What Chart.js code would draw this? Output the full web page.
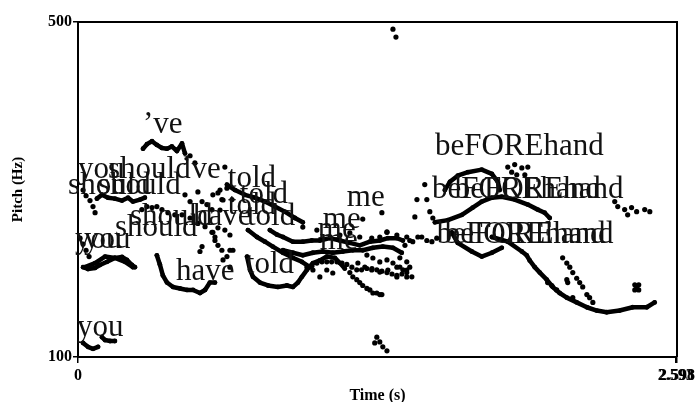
<!DOCTYPE html>
<html>
<head>
<meta charset="utf-8">
<script src="https://cdn.jsdelivr.net/npm/chart.js@4/dist/chart.umd.min.js"></script>
<style>
  html, body { margin: 0; padding: 0; background: #fff; }
  canvas { display: block; }
</style>
</head>
<body>
<canvas id="pitch" width="698" height="402"></canvas>
<script>
// Pitch tracks, [time (s), pitch (Hz)], several takes overlaid
// continuous stretches (drawn as joined dots)
const youShouldA = [[0.082,214],[0.104,218],[0.130,215],[0.160,214],[0.191,212],[0.217,215],[0.238,211],[0.269,213],[0.290,215]];
const veHigh = [[0.282,272],[0.299,278],[0.321,282],[0.342,277],[0.364,273],[0.386,272],[0.407,275],[0.429,269],[0.451,279],[0.464,266]];
const toldHigh = [[0.646,229],[0.681,223],[0.724,218],[0.767,215],[0.811,211],[0.854,206],[0.897,201],[0.941,195],[0.975,191]];
const toldMid = [[0.737,184],[0.776,178],[0.811,174],[0.845,170],[0.889,165],[0.932,161],[0.971,158],[1.006,154]];
const meUpper = [[0.832,184],[0.863,180],[0.889,178],[0.932,174],[0.975,174],[1.014,175],[1.049,175],[1.092,177],[1.136,175],[1.179,173],[1.222,171],[1.266,174],[1.309,175],[1.344,177],[1.383,177],[1.409,175]];
const meLower = [[0.889,167],[0.932,165],[0.975,163],[1.019,165],[1.062,166],[1.105,165],[1.149,166],[1.192,167],[1.235,167],[1.279,169],[1.322,170],[1.366,169],[1.404,165]];
const youLowA = [[0.022,154],[0.043,152.6],[0.074,153.4],[0.095,155.6],[0.126,158],[0.160,161],[0.191,161.7],[0.212,159.4],[0.234,155.6],[0.247,154]];
const youLowB = [[0.030,154],[0.074,157],[0.117,162],[0.160,161],[0.204,158],[0.238,154]];
const haveLow = [[0.342,163],[0.355,156],[0.368,148],[0.386,143],[0.412,140],[0.442,139],[0.473,138],[0.499,138],[0.529,136],[0.551,138],[0.572,143],[0.594,143]];
const toldLow = [[0.733,162],[0.746,152],[0.759,147],[0.789,143],[0.824,141],[0.867,140],[0.906,141],[0.932,140],[0.954,143],[0.971,147],[0.993,152],[1.019,157],[1.049,159],[1.079,162],[1.114,161],[1.136,157],[1.157,153]];
const youBottomA = [[0.022,107],[0.043,105],[0.065,104],[0.087,105]];
const youBottomB = [[0.104,110],[0.117,108.5],[0.139,108],[0.160,108]];
const handArch = [[1.591,223],[1.613,232],[1.647,239],[1.691,243],[1.751,246],[1.795,241],[1.821,232],[1.829,223]];
const handLong = [[1.548,191],[1.604,193],[1.665,198],[1.712,205],[1.751,211],[1.795,215],[1.838,216],[1.894,213],[1.951,208],[1.994,203],[2.024,200],[2.046,195]];
const handLoop = [[1.621,182],[1.647,173],[1.708,166],[1.751,162],[1.795,165],[1.838,169]];
const handFall = [[1.795,178],[1.864,174],[1.925,166],[1.946,163],[1.959,159],[1.981,154],[2.003,150],[2.033,145],[2.059,140],[2.089,136],[2.120,133],[2.163,130],[2.207,127],[2.250,125],[2.293,124],[2.349,125],[2.406,127],[2.467,127],[2.501,130]];

// scattered voiced frames
const youShouldDots = [[0.022,223],[0.035,217],[0.052,212],[0.065,206],[0.074,200],[0.009,177],[0.022,172],[0.035,167],[0.048,162]];
const veTail = [[0.486,263],[0.507,254]];
const shouldMid = [[0.277,203],[0.299,206],[0.321,205],[0.342,206],[0.364,203],[0.390,200],[0.420,198],[0.451,198],[0.486,195],[0.520,190],[0.551,187],[0.581,182],[0.594,178]];
const haveTold = [[0.464,218],[0.486,211],[0.520,221],[0.538,211],[0.559,208],[0.581,203],[0.585,218],[0.607,220],[0.624,213],[0.637,249],[0.646,225],[0.668,213],[0.607,186],[0.585,182],[0.594,175],[0.538,170],[0.529,166],[0.607,171],[0.624,167],[0.646,162],[0.659,167]];
const toldDots = [[0.616,223],[0.629,212.6],[0.616,202.6],[0.637,184],[0.659,179.7],[0.672,167],[0.629,159.4],[0.659,154],[0.975,186.7],[1.036,184]];
const meThird = [[0.993,154],[1.015,155],[1.036,157],[1.058,158],[1.079,158],[1.100,158],[1.123,158],[1.145,157],[1.166,156],[1.188,154],[1.209,152],[1.230,152],[1.253,153],[1.275,153],[1.296,152],[1.318,151],[1.340,150],[1.362,149],[1.383,148],[1.405,149],[1.426,150],[1.448,147]];
const meCloud = [[1.136,179.7],[1.179,181.5],[1.222,178],[1.274,177.1],[1.309,178],[1.340,182.4],[1.383,179.7],[1.426,178],
  [1.253,163.2],[1.279,160.9],[1.309,157.9],[1.340,159.4],[1.366,157.1],[1.396,154.1],[1.426,151.9],
  [1.214,157.1],[1.244,154.1],[1.274,151.9],[1.309,150.4],[1.344,151.9],[1.383,146.9],[1.426,146.9],
  [1.079,151.9],[1.105,149.7],[1.049,146.9],[1.019,151.9]];
const meFall = [[1.179,150],[1.192,147],[1.209,145],[1.222,143],[1.235,141],[1.253,139],[1.266,138],[1.279,136],[1.296,136],[1.309,135],[1.318,135]];
const meRight = [[1.396,161],[1.426,158],[1.439,154],[1.409,152],[1.383,154],[1.235,194],[1.318,200],[1.340,182]];
const midLow = [[1.287,107],[1.296,110],[1.309,107.5],[1.322,105],[1.340,103]];
const octaveJump = [[1.366,483],[1.379,465]];
const preHand = [[1.504,229],[1.513,213],[1.526,201],[1.539,195],[1.491,178],[1.513,175],[1.535,174],[1.461,196],[1.474,178],[1.452,174],[1.418,171],[1.439,175],[1.470,213],[1.556,177]];
const handTop = [[1.864,249],[1.894,252],[1.925,248],[1.951,249],[1.938,240],[1.903,240],[1.881,243]];
const handTrail = [[2.328,211],[2.341,206],[2.371,203],[2.401,205],[2.423,201],[2.458,203],[2.384,198],[2.480,201]];
const handFall2 = [[2.102,161],[2.120,157],[2.133,154],[2.146,150],[2.163,146],[2.176,143],[2.189,140],[2.207,135],[2.219,133],[2.233,130],[2.120,145],[2.124,143],[2.146,133],[2.037,143],[2.055,141],[2.076,138]];
const handStar = [[2.423,140],[2.415,141.5],[2.432,141.5],[2.415,138],[2.432,138]];

// word labels: text, start time (s), baseline pitch (Hz)
const wordTexts = ['\u2019ve', 'you', 'should', '\u2019ve', 'should', 'should', 'should', 'should', 'have', 'told',
  'you', 'you', 'have', 'you', 'told', 'told', 'told', 'told', 'me', 'me', 'me', 'me',
  'beFOREhand', 'beFOREhand', 'beFOREhand', 'beFOREhand', 'beFOREhand'];
const wordTimes = [0.282, 0.000, 0.130, 0.447, -0.043, 0.087, 0.225, 0.160, 0.499, 0.733,
  -0.013, 0.026, 0.425, -0.004, 0.650, 0.702, 0.650, 0.728, 1.166, 1.062, 1.040, 1.049,
  1.548, 1.535, 1.634, 1.556, 1.591];
const wordPitches = [293, 236, 236, 236, 219, 219, 188.5, 179, 188.5, 188.5,
  169, 169, 145, 110.6, 226, 209.6, 199, 149.7, 206.6, 185.8, 177.1, 168,
  264, 214.7, 214.7, 172.9, 172.9];

const timeTicks = [0, 2.593, 2.598];
const pitchTicks = [100, 500];

const SERIF = '"Liberation Serif", "Times New Roman", serif';

const lineSegs = [youShouldA, veHigh, toldHigh, toldMid, meUpper, meLower, youLowA, youLowB, haveLow,
  toldLow, youBottomA, youBottomB, handArch, handLong, handLoop, handFall];
const dotSets = [youShouldDots, veTail, shouldMid, haveTold, toldDots, meThird, meCloud, meFall, meRight, midLow,
  octaveJump, preHand, handTop, handTrail, handFall2, handStar];

const toPoints = seg => seg.map(([x, y]) => ({ x, y }));

const datasets = [
  ...lineSegs.map(seg => ({
    data: toPoints(seg),
    showLine: true,
    borderColor: '#000',
    borderWidth: 4.5,
    borderCapStyle: 'round',
    borderJoinStyle: 'round',
    pointRadius: 2.4,
    pointBorderWidth: 0,
    pointBackgroundColor: '#000'
  })),
  ...dotSets.map(seg => ({
    data: toPoints(seg),
    showLine: false,
    pointRadius: 2.6,
    pointBorderWidth: 0,
    pointBackgroundColor: '#000'
  }))
];

// closes the box and writes the word labels
const framePlugin = {
  id: 'frameAndWords',
  afterDatasetsDraw(chart) {
    const { ctx, scales: { x, y } } = chart;
    ctx.save();
    ctx.fillStyle = '#111';
    ctx.font = '31px ' + SERIF;
    ctx.textAlign = 'left';
    ctx.textBaseline = 'alphabetic';
    wordTexts.forEach((txt, i) => {
      ctx.fillText(txt, x.getPixelForValue(wordTimes[i]), y.getPixelForValue(wordPitches[i]));
    });
    ctx.restore();
  },
  afterDraw(chart) {
    const { ctx, chartArea: a } = chart;
    ctx.save();
    ctx.strokeStyle = '#000';
    ctx.lineWidth = 2;
    ctx.beginPath();
    ctx.moveTo(a.left, a.top);
    ctx.lineTo(a.right, a.top);
    ctx.lineTo(a.right, a.bottom);
    ctx.stroke();
    ctx.restore();
  }
};

new Chart(document.getElementById('pitch'), {
  type: 'scatter',
  data: { datasets },
  options: {
    responsive: false,
    animation: false,
    layout: { padding: { top: 22, right: 21, left: 0, bottom: 0 } },
    plugins: { legend: { display: false }, tooltip: { enabled: false } },
    scales: {
      x: {
        type: 'linear',
        min: 0,
        max: 2.598,
        afterBuildTicks: s => { s.ticks = timeTicks.map(v => ({ value: v })); },
        afterFit: s => { s.height = 45; },
        ticks: {
          autoSkip: false,
          maxRotation: 0,
          padding: 3,
          color: '#000',
          font: { family: SERIF, size: 16, weight: 'bold' },
          callback: v => (v === 0 ? '0' : v.toFixed(3))
        },
        grid: { drawOnChartArea: false, tickLength: 6, color: '#000', lineWidth: 1.5 },
        border: { display: true, color: '#000', width: 2 },
        title: {
          display: true,
          text: 'Time (s)',
          color: '#000',
          font: { family: SERIF, size: 16, weight: 'bold', lineHeight: 1 },
          padding: { top: 0, bottom: -2 }
        }
      },
      y: {
        type: 'logarithmic',
        min: 100,
        max: 500,
        afterBuildTicks: s => { s.ticks = pitchTicks.map(v => ({ value: v })); },
        afterFit: s => { s.width = 78; },
        ticks: {
          padding: 1,
          color: '#000',
          font: { family: SERIF, size: 16, weight: 'bold' },
          callback: v => String(v)
        },
        grid: { drawOnChartArea: false, tickLength: 5, color: '#000', lineWidth: 1.5 },
        border: { display: true, color: '#000', width: 2 },
        title: {
          display: true,
          text: 'Pitch (Hz)',
          color: '#000',
          font: { family: SERIF, size: 15, weight: 'bold' },
          padding: { top: 9, bottom: 0 }
        }
      }
    }
  },
  plugins: [framePlugin]
});
</script>
</body>
</html>
